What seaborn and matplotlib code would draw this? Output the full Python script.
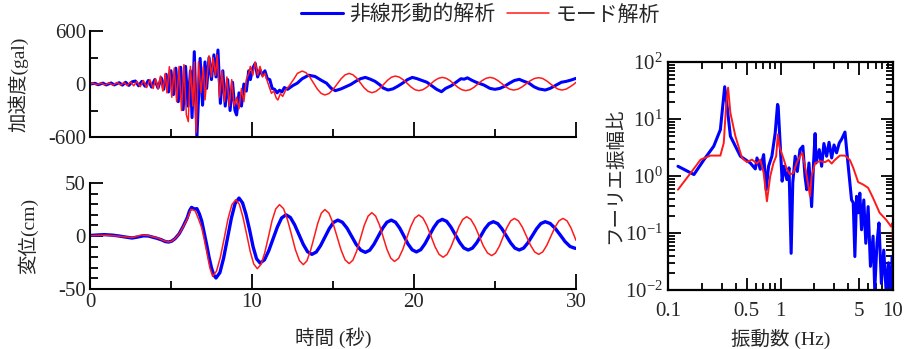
import matplotlib
matplotlib.use("Agg")
import matplotlib.pyplot as plt
import matplotlib.ticker as mticker
import seaborn as sns

# 加速度 (gal) - 非線形動的解析
acc_nl_t = [0.0, 0.3, 0.5, 0.8, 1.0, 1.3, 1.5, 1.8, 2.0, 2.2, 2.4, 2.6, 2.8, 3.0, 3.2, 3.4, 3.6, 3.8,
            4.0, 4.2, 4.4, 4.55, 4.7, 4.85, 5.0, 5.15, 5.3, 5.45, 5.6, 5.75, 5.9, 6.05, 6.2, 6.3, 6.44,
            6.6, 6.8, 6.95, 7.1, 7.2, 7.35, 7.5, 7.65, 7.78, 7.9, 8.05, 8.2, 8.35, 8.5, 8.65, 8.8, 8.95,
            9.05, 9.2, 9.35, 9.5, 9.65, 9.8, 9.9, 10.05, 10.2, 10.35, 10.5, 10.65, 10.8, 10.95, 11.1,
            11.25, 11.4, 11.55, 11.7, 11.85, 12.0, 12.2, 12.5, 12.8, 13.1, 13.5, 13.9, 14.3, 14.6, 14.9,
            15.15, 15.5, 15.8, 16.1, 16.4, 16.7, 17.0, 17.3, 17.6, 17.9, 18.1, 18.4, 18.7, 19.0, 19.3,
            19.6, 19.9, 20.2, 20.5, 20.8, 21.1, 21.4, 21.7, 21.95, 22.3, 22.6, 22.9, 23.1, 23.3, 23.6,
            23.9, 24.3, 24.7, 25.0, 25.3, 25.6, 25.9, 26.2, 26.5, 26.8, 27.1, 27.4, 27.7, 28.1, 28.4,
            28.8, 29.1, 29.4, 29.7, 30.0]
acc_nl_v = [0, 8, -8, 10, -10, 12, -10, 15, -12, 20, -15, 25, 34, -20, 30, -25, 40, -35,
            50, -45, 70, -60, 110, -90, 150, -120, 180, -200, 190, -290, 200, -250, 150, -380, 366,
            -607, 290, -240, 250, -50, 300, 50, 330, 80, 385, -219, 150, -250, 50, -300, 20, -300,
            -350, -100, -250, 0, -80, 150, 50, 180, 234, 80, 160, 100, 150, 60, 50,
            -50, -60, -100, -70, -90, -40, -60, -20, 10, 60, 100, 85, 40, 10, -50,
            -75, -55, -30, -5, 30, 60, 75, 55, 30, -10, -45, -68, -55, -25, 10,
            50, 75, 60, 40, 20, -20, -60, -87, -50, -20, 20, 60, 55, 70, 40,
            15, -10, -50, -60, -50, -25, 10, 40, 53, 30, 10, -30, -55, -68, -50,
            -10, 20, 30, 45, 64]

# 加速度 (gal) - モード解析
acc_md_t = [0.0, 0.2, 0.4, 0.7, 0.9, 1.2, 1.4, 1.7, 1.9, 2.1, 2.3, 2.5, 2.7, 2.9, 3.1, 3.3, 3.5, 3.7,
            3.9, 4.05, 4.2, 4.35, 4.5, 4.65, 4.75, 4.9, 5.05, 5.2, 5.35, 5.5, 5.65, 5.8, 5.95, 6.07,
            6.2, 6.35, 6.44, 6.55, 6.7, 6.85, 7.0, 7.1, 7.35, 7.5, 7.6, 7.75, 7.85, 8.0, 8.15, 8.3,
            8.45, 8.6, 8.75, 8.9, 9.05, 9.2, 9.35, 9.5, 9.65, 9.8, 9.9, 10.05, 10.2, 10.35, 10.5,
            10.65, 10.8, 10.95, 11.1, 11.2, 11.35, 11.5, 11.6, 11.75, 11.9, 12.1, 12.3, 12.6, 12.8,
            13.1, 13.33, 13.57, 13.8, 14.03, 14.27, 14.5, 14.75, 15.0, 15.25, 15.5, 15.75,
            16.0, 16.23, 16.47, 16.7, 16.93, 17.17, 17.4, 17.64, 17.88, 18.13, 18.37, 18.61,
            18.85, 19.09, 19.33, 19.58, 19.82, 20.06, 20.3, 20.54, 20.78, 21.03, 21.27, 21.51,
            21.75, 21.99, 22.23, 22.48, 22.72, 22.96, 23.2, 23.45, 23.7, 23.95, 24.2, 24.45,
            24.7, 24.94, 25.18, 25.43, 25.67, 25.91, 26.15, 26.41, 26.67, 26.93, 27.18, 27.44,
            27.7, 27.94, 28.18, 28.43, 28.67, 28.91, 29.15, 29.4, 29.65, 29.85, 30.0]
acc_md_v = [0, 8, -8, 10, -10, 12, -12, 15, -12, 18, -18, 25, -20, 30, -30, 40, -40, 50,
            -50, 60, -55, 90, -80, 120, -100, 196, -150, 180, -200, 200, -300, 220, -350, -426,
            200, -250, 250, -550, 250, -100, 200, -180, 320, 80, 300, 100, 330, -150, 150, -200,
            80, -250, 50, -250, -150, -280, -50, -200, 50, 120, 200, 100, 250, 100, 200,
            80, 120, 30, -50, -105, -80, -160, -181, -110, -140, -60, -20, 60, 120,
            147, 129, 79, 12, -56, -106, -124, -108, -63, -2, 59, 104,
            120, 105, 66, 11, -44, -83, -98, -85, -51, -4, 43, 77,
            90, 79, 49, 8, -34, -64, -75, -65, -38, 0, 38, 65,
            75, 65, 38, 0, -38, -65, -75, -65, -38, 0, 38, 65,
            75, 65, 39, 4, -32, -58, -68, -59, -33, 2, 37, 63,
            72, 63, 37, 2, -33, -59, -68, -57, -30, -5, 19]

# 変位 (cm) - 非線形動的解析
disp_nl_t = [0.0, 0.5, 0.9, 1.4, 1.8, 2.2, 2.6, 3.0, 3.3, 3.6, 3.8, 4.1, 4.4, 4.65, 4.85, 5.05,
             5.25, 5.5, 5.75, 6.0, 6.15, 6.27, 6.45, 6.6, 6.75, 6.9, 7.05, 7.2, 7.35, 7.5, 7.65,
             7.78, 8.02, 8.25, 8.49, 8.73, 8.96, 9.2, 9.42, 9.63, 9.85, 10.07, 10.28,
             10.5, 10.77, 11.03, 11.3, 11.57, 11.83, 12.1, 12.37, 12.63, 12.9, 13.17, 13.43,
             13.7, 13.97, 14.23, 14.5, 14.77, 15.03, 15.3, 15.58, 15.87, 16.15, 16.43, 16.72,
             17.0, 17.27, 17.53, 17.8, 18.07, 18.33, 18.6, 18.86, 19.12, 19.38, 19.63, 19.89,
             20.15, 20.42, 20.68, 20.95, 21.22, 21.48, 21.75, 22.02, 22.28, 22.55, 22.82, 23.08,
             23.35, 23.61, 23.87, 24.13, 24.38, 24.64, 24.9, 25.17, 25.43, 25.7, 25.97, 26.23,
             26.5, 26.77, 27.03, 27.3, 27.57, 27.83, 28.1, 28.41, 28.72, 29.03, 29.33, 29.64,
             29.95, 30.0]
disp_nl_v = [0.5, 1.0, 1.3, 0.8, 0.0, -1.0, -1.9, -0.8, 0.2, 0.0, -0.8, -2.0, -3.5, -5.2, -5.7, -4.8,
             -2.5, 2.0, 9.0, 17, 24, 27, 25.5, 25.8, 21, 14, 3, -8, -20, -30, -37,
             -39.6, -34.5, -20.8, -1.9, 17.0, 30.7, 35.8, 31.2, 20.5, 6.0, -10.2, -21.4,
             -25.5, -22.5, -14.1, -2.75, 8.6, 17.0, 20, 17.5, 10.7, 1.35, -8.0, -14.8,
             -17.3, -15.1, -9.2, -1.15, 6.9, 12.8, 15, 13.0, 7.4, -0.2, -7.8, -13.4,
             -15.4, -13.4, -7.8, -0.2, 7.4, 13.0, 15, 13.0, 7.5, 0, -7.5, -13.0,
             -15, -12.9, -7.3, 0.35, 8.0, 13.6, 15.7, 13.8, 8.5, 1.25, -6.0, -11.3,
             -13.2, -11.4, -6.5, 0.15, 6.8, 11.7, 13.5, 11.7, 6.8, 0.15, -6.5, -11.4,
             -13.2, -11.4, -6.5, 0.15, 6.8, 11.7, 13.5, 11.8, 7.2, 0.95, -5.3, -9.9,
             -11.6, -11.6]

# 変位 (cm) - モード解析
disp_md_t = [0.0, 0.5, 1.0, 1.5, 2.0, 2.6, 2.9, 3.2, 3.5, 3.7, 4.2, 4.5, 4.85, 5.05, 5.25, 5.5,
             5.75, 6.0, 6.23, 6.4, 6.5, 6.7, 6.9, 7.05, 7.2, 7.4, 7.57, 7.81, 8.05, 8.29, 8.52,
             8.76, 9.0, 9.22, 9.44, 9.67, 9.89, 10.11, 10.33, 10.56, 10.79, 11.02, 11.24, 11.47,
             11.7, 11.95, 12.19, 12.44, 12.68, 12.93, 13.17, 13.39, 13.61, 13.84, 14.06, 14.28,
             14.5, 14.75, 15.0, 15.25, 15.5, 15.75, 16.0, 16.23, 16.47, 16.7, 16.93, 17.17,
             17.4, 17.63, 17.87, 18.1, 18.33, 18.57, 18.8, 19.05, 19.3, 19.55, 19.8, 20.05,
             20.3, 20.55, 20.8, 21.05, 21.3, 21.55, 21.8, 22.04, 22.28, 22.53, 22.77, 23.01,
             23.25, 23.51, 23.77, 24.03, 24.28, 24.54, 24.8, 25.03, 25.27, 25.5, 25.73, 25.97,
             26.2, 26.45, 26.7, 26.95, 27.2, 27.45, 27.7, 27.95, 28.2, 28.45, 28.7, 28.95,
             29.2, 29.45, 29.7, 30.0]
disp_md_v = [0.3, 0.6, 0.8, 0.2, -0.5, -1.5, -0.2, 1.0, 0.5, 0.0, -2.0, -4.0, -5.7, -4.8, -2.5, 2.0,
             8.5, 16, 25, 24.5, 23.5, 16, 7.5, -3, -14.5, -30, -38, -33.2, -19.9, -1.85, 16.2,
             29.5, 34.3, 29.9, 18.0, 1.75, -14.5, -26.4, -30.8, -26.8, -15.7, -0.6, 14.5, 25.6,
             29.6, 25.8, 15.45, 1.3, -12.85, -23.2, -27, -23.5, -14, -1, 12, 21.5,
             25, 21.6, 12.25, -0.5, -13.25, -22.6, -26, -22.8, -14, -2, 10, 18.8,
             22, 18.9, 10.5, -1, -12.5, -20.9, -24, -21.1, -13.05, -2.1, 8.85, 16.9,
             19.8, 17.1, 9.85, -0.1, -10.05, -17.3, -20, -17.4, -10.45, -0.9, 8.65, 15.6,
             18.2, 15.7, 9.0, -0.15, -9.3, -16.0, -18.5, -16.15, -9.7, -0.95, 7.8, 14.25,
             16.6, 14.3, 8.1, -0.35, -8.8, -15.0, -17.3, -15.0, -8.8, -0.35, 8.1, 14.3,
             16.6, 14.3, 7.5, -4]

# フーリエ振幅比 - 非線形動的解析
fs_nl_f = [0.1226, 0.170, 0.209, 0.255, 0.292, 0.319, 0.335, 0.3585, 0.44, 0.539, 0.597, 0.618,
           0.661, 0.708, 0.746, 0.783, 0.838, 0.897, 0.941, 0.953, 1.006, 1.034, 1.07, 1.138, 1.19,
           1.243, 1.285, 1.35, 1.41, 1.49, 1.58, 1.65, 1.71, 1.79, 1.89, 1.96, 2.03, 2.07, 2.21,
           2.32, 2.43, 2.57, 2.70, 2.85, 2.99, 3.15, 3.33, 3.49, 3.74, 3.87, 4.0, 4.28, 4.43, 4.58,
           4.74, 4.90, 5.07, 5.25, 5.50, 5.73, 6.01, 6.30, 6.65, 6.88, 7.2, 7.5, 7.88, 8.27, 8.7,
           9.1, 9.5, 9.86, 10.0]
fs_nl_a = [1.48, 1.06, 1.94, 3.33, 6.5, 36.8, 16.8, 4.99, 2.22, 1.69, 1.33, 2.07,
           1.31, 2.37, 0.575, 1.48, 2.22, 5.7, 18.0, 16.8, 2.22, 0.81, 1.48, 0.865, 1.39,
           0.044, 0.76, 2.22, 1.2, 2.9, 3.33, 0.99, 0.575, 1.69, 0.29, 1.48, 5.55, 1.69, 2.9,
           1.48, 3.71, 2.22, 3.9, 2.07, 3.5, 2.55, 3.8, 4.4, 5.9, 2.9, 1.48, 0.38, 0.34, 0.0386,
           0.44, 0.226, 0.5, 0.114, 0.38, 0.066, 0.29, 0.026, 0.088, 0.0101, 0.066, 0.15, 0.013,
           0.05, 0.009, 0.03, 0.0098, 0.039, 0.0077]

# フーリエ振幅比 - モード解析
fs_md_f = [0.1226, 0.159, 0.195, 0.239, 0.292, 0.313, 0.328, 0.342, 0.3585, 0.397, 0.455, 0.503,
           0.557, 0.618, 0.661, 0.708, 0.757, 0.81, 0.866, 0.915, 0.946, 0.978, 1.02, 1.07, 1.138,
           1.22, 1.30, 1.39, 1.49, 1.56, 1.65, 1.73, 1.83, 1.89, 2.03, 2.24, 2.49, 2.67, 2.85,
           3.03, 3.37, 3.74, 4.14, 4.43, 4.9, 5.41, 6.01, 6.65, 7.6, 8.7, 9.6, 9.9, 9.98]
fs_md_a = [0.575, 1.13, 1.94, 2.28, 2.28, 3.8, 16.8, 35.4, 12.8, 5.0, 2.07, 1.75,
           1.94, 1.65, 1.94, 1.13, 0.36, 0.99, 1.69, 2.22, 5.35, 3.33, 2.55, 1.94, 1.31,
           1.06, 1.13, 1.69, 2.22, 2.55, 1.48, 0.865, 0.44, 0.99, 1.69, 1.82, 1.75, 1.9, 1.65,
           1.9, 2.28, 2.28, 1.9, 1.39, 0.78, 0.71, 0.62, 0.41, 0.226, 0.17, 0.13, 0.15, 0.045]

BLUE = "#0000ff"
RED = "#ff1a1a"

sns.set_theme(style="white")
plt.rcParams['font.family'] = ['Liberation Serif', 'Noto Sans CJK JP']
plt.rcParams['mathtext.fontset'] = 'stix'
plt.rcParams['axes.unicode_minus'] = False
plt.rcParams['axes.linewidth'] = 1.5
plt.rcParams['xtick.direction'] = 'in'
plt.rcParams['ytick.direction'] = 'in'

fig = plt.figure(figsize=(9.08, 3.49), dpi=100)
ax_acc = fig.add_axes([0.0991, 0.6074, 0.5352, 0.3037])
ax_dis = fig.add_axes([0.0991, 0.1719, 0.5352, 0.3037])
ax_fs = fig.add_axes([0.7357, 0.1691, 0.2478, 0.6533])

# 加速度
sns.lineplot(x=acc_nl_t, y=acc_nl_v, ax=ax_acc, color=BLUE, lw=2.2, sort=False, estimator=None,
             label="非線形動的解析", legend=False)
sns.lineplot(x=acc_md_t, y=acc_md_v, ax=ax_acc, color=RED, lw=1.1, sort=False, estimator=None,
             label="モード解析", legend=False)
# 変位
sns.lineplot(x=disp_nl_t, y=disp_nl_v, ax=ax_dis, color=BLUE, lw=2.4, sort=False, estimator=None)
sns.lineplot(x=disp_md_t, y=disp_md_v, ax=ax_dis, color=RED, lw=1.1, sort=False, estimator=None)
# フーリエ
sns.lineplot(x=fs_nl_f, y=fs_nl_a, ax=ax_fs, color=BLUE, lw=2.2, sort=False, estimator=None)
sns.lineplot(x=fs_md_f, y=fs_md_a, ax=ax_fs, color=RED, lw=1.4, sort=False, estimator=None)

for ax in (ax_acc, ax_dis):
    ax.set_xlim(0, 30)
    for s in ('top', 'right'):
        ax.spines[s].set_visible(False)
    ax.spines['left'].set_color('black')
    ax.spines['bottom'].set_color('black')
    ax.xaxis.set_major_locator(mticker.MultipleLocator(10))
    ax.xaxis.set_minor_locator(mticker.MultipleLocator(5))
    ax.tick_params(which='both', bottom=True, left=True, color='black', width=1.3)
    ax.tick_params(which='major', length=11, labelsize=15, pad=3)
    ax.tick_params(which='minor', length=6)
    ax.tick_params(axis='y', which='major', length=9)
    ax.tick_params(axis='y', which='minor', length=6)
    ax.set_xlabel("")

ax_acc.set_ylim(-600, 600)
ax_acc.set_yticks([-600, 0, 600])
ax_acc.yaxis.set_minor_locator(mticker.MultipleLocator(300))
ax_acc.set_xticklabels([])
ax_acc.set_ylabel("加速度(gal)", fontsize=14, labelpad=14)

ax_dis.set_ylim(-50, 50)
ax_dis.set_yticks([-50, 0, 50])
ax_dis.yaxis.set_minor_locator(mticker.MultipleLocator(10))
ax_dis.set_ylabel("変位(cm)", fontsize=14, labelpad=14)
ax_dis.set_xlabel("時間 (秒)", fontsize=14, labelpad=11)
ax_dis.set_xticks([0, 10, 20, 30])
ax_dis.set_xticklabels(["0", "10", "20", "30"])

ax_fs.set_xscale('log')
ax_fs.set_yscale('log')
ax_fs.set_xlim(0.1, 10)
ax_fs.set_ylim(0.01, 100)
for s in ax_fs.spines.values():
    s.set_color('black')
    s.set_linewidth(1.6)
ax_fs.xaxis.set_major_locator(mticker.FixedLocator([0.1, 0.5, 1, 5, 10]))
ax_fs.xaxis.set_major_formatter(mticker.FixedFormatter(["0.1", "0.5", "1", "5", "10"]))
ax_fs.xaxis.set_minor_locator(mticker.FixedLocator(
    [0.2, 0.3, 0.4, 0.6, 0.7, 0.8, 0.9, 2, 3, 4, 6, 7, 8, 9]))
ax_fs.xaxis.set_minor_formatter(mticker.NullFormatter())
ax_fs.yaxis.set_major_locator(mticker.LogLocator(base=10, numticks=10))
ax_fs.yaxis.set_minor_locator(mticker.LogLocator(base=10, subs=range(2, 10), numticks=10))
ax_fs.tick_params(which='both', bottom=True, left=True, top=True, right=True,
                  color='black', width=1.3)
ax_fs.tick_params(which='major', length=9, labelsize=15, pad=4)
ax_fs.tick_params(axis='x', which='major', pad=9)
ax_fs.tick_params(which='minor', length=5)
ax_fs.set_xlabel("振動数 (Hz)", fontsize=14, labelpad=5)
ax_fs.set_ylabel("フーリエ振幅比", fontsize=14, labelpad=0)

handles, labels = ax_acc.get_legend_handles_labels()
fig.legend(handles, labels, loc='center', bbox_to_anchor=(0.529, 0.955), ncol=2,
           frameon=False, fontsize=15, handlelength=2.0, columnspacing=0.6, handletextpad=0.3)

fig.savefig("out.png", dpi=100)
